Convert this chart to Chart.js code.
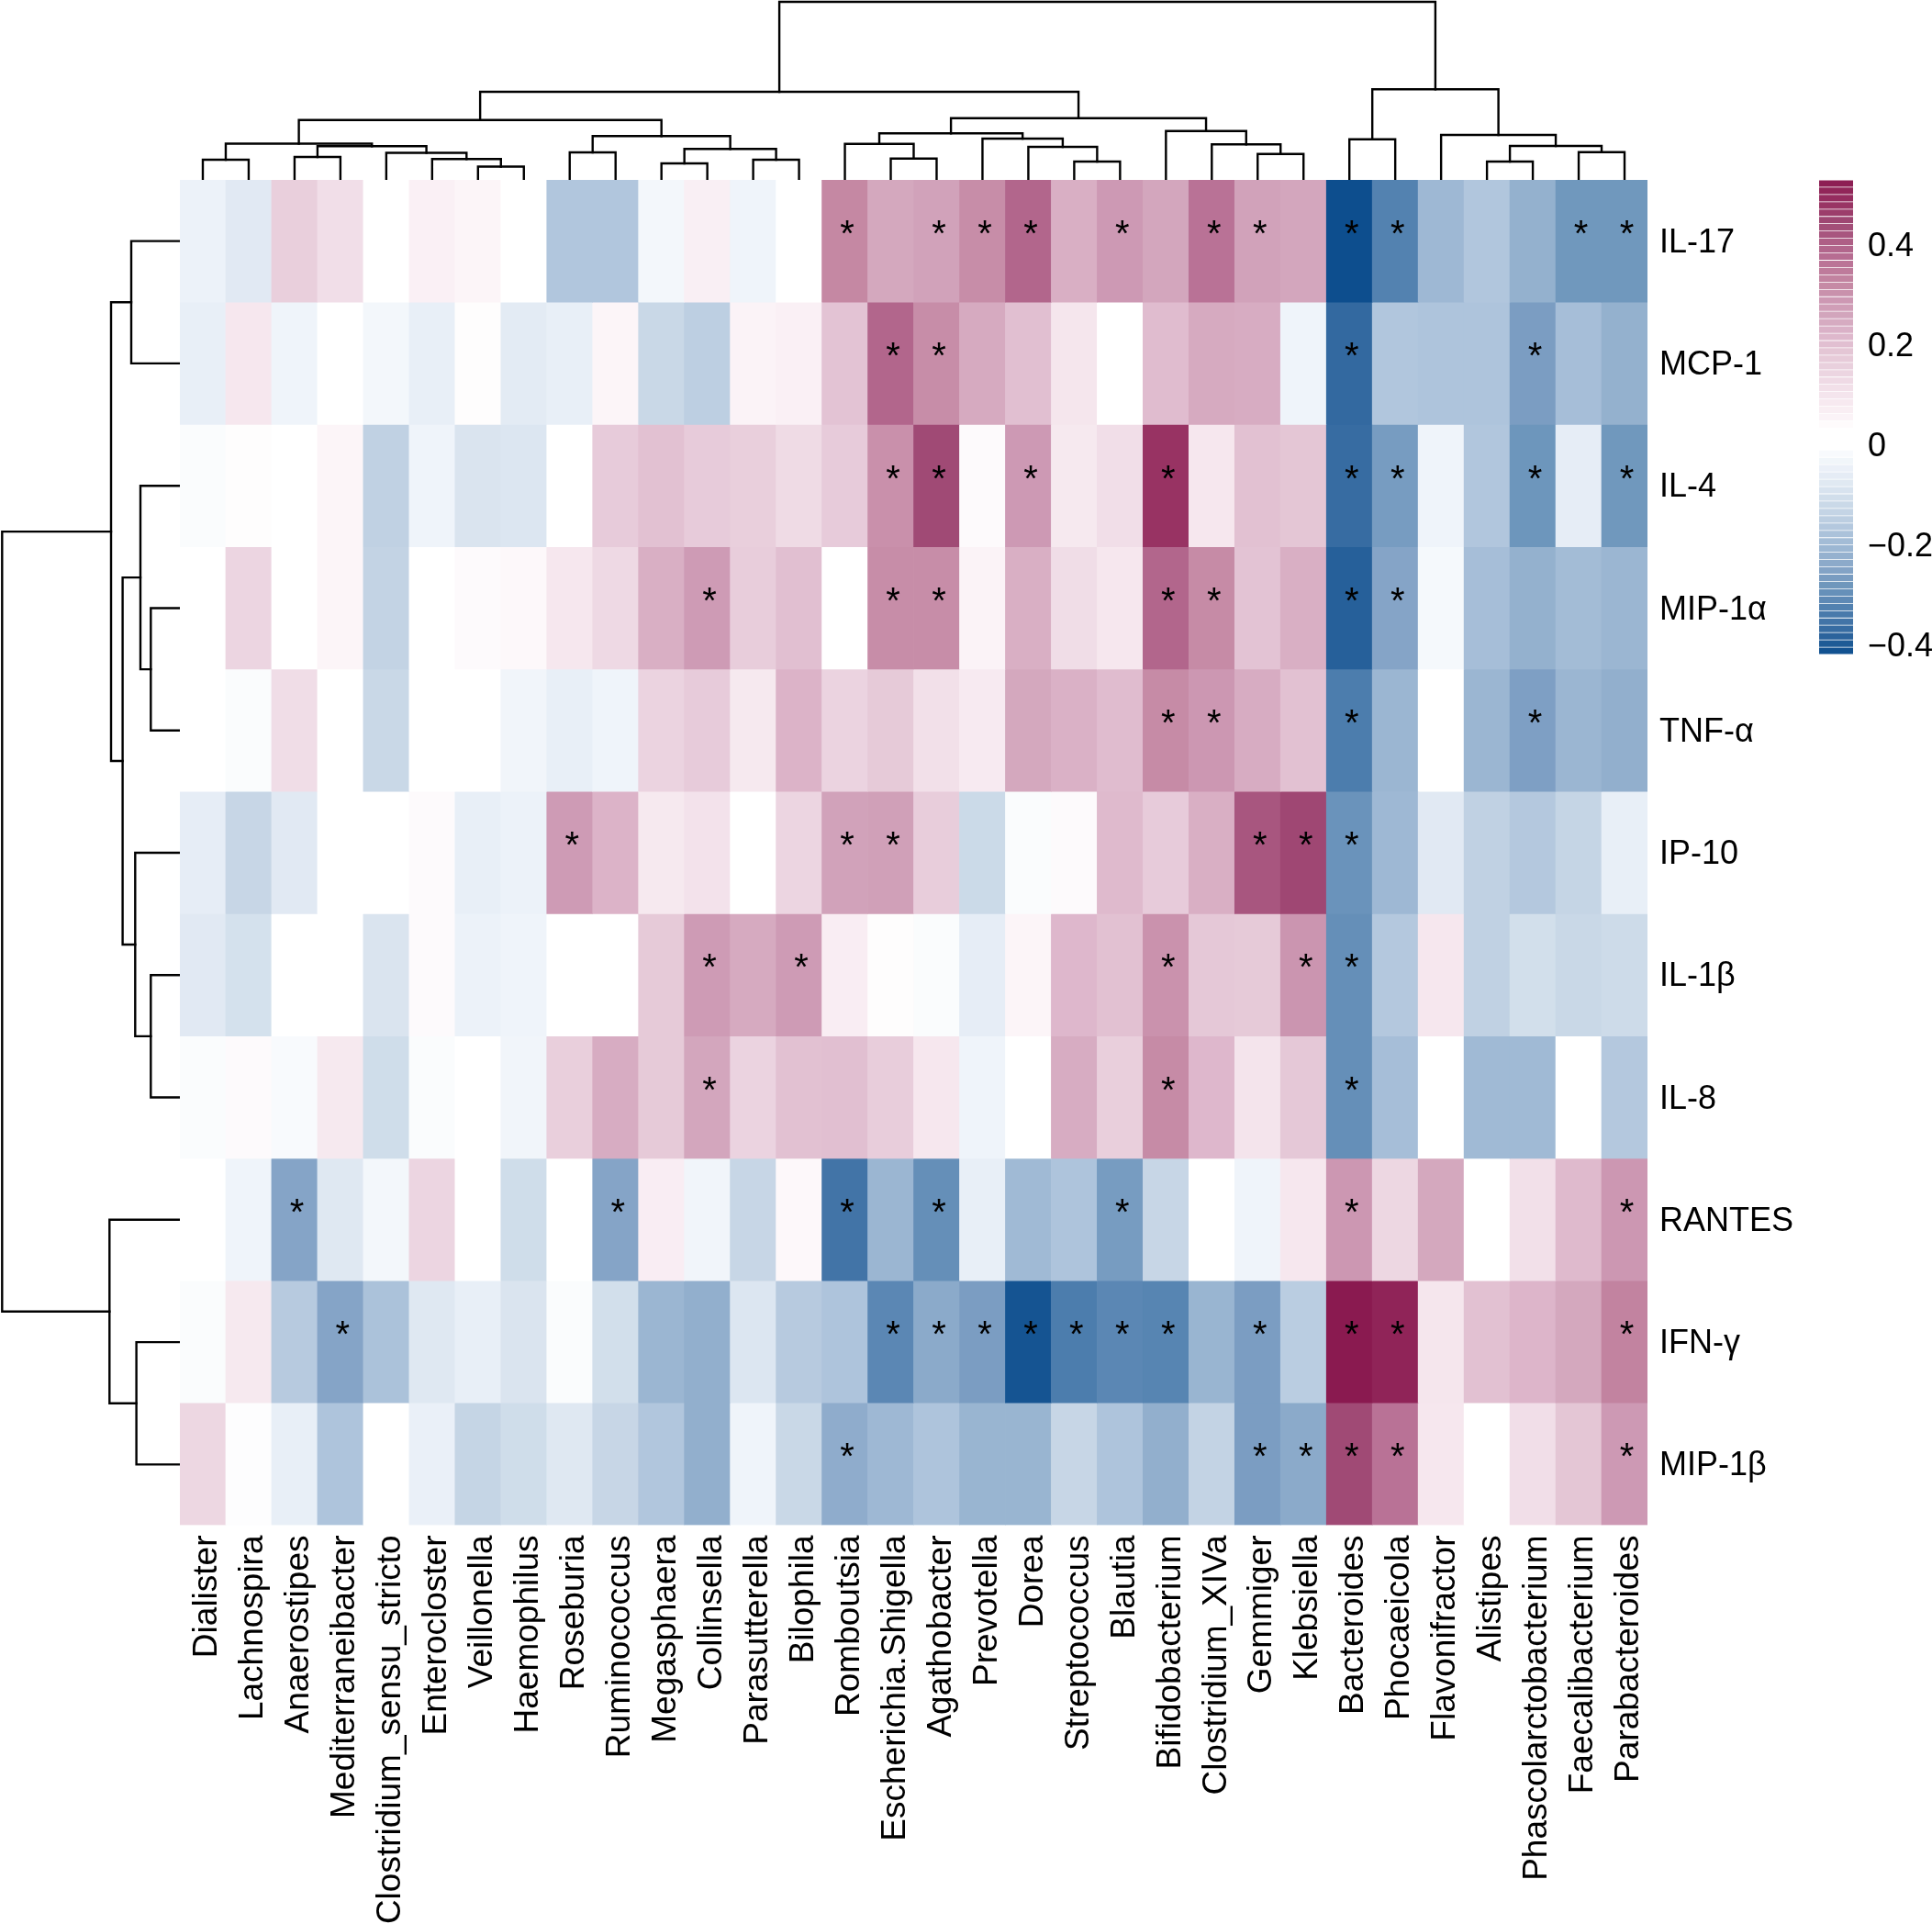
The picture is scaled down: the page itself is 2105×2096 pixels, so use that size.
<!DOCTYPE html>
<html lang="en">

<head>
    <meta charset="UTF-8">
    <title>Cytokine / genus correlation heatmap</title>
    <script src="https://cdn.jsdelivr.net/npm/chart.js"></script>
    <style>
        body { margin: 0; background: #fff; }
        #page { position: relative; width: 2105px; height: 2096px; overflow: hidden; }
        canvas { position: absolute; }
    </style>
</head>

<body>
    <div id="page">
        <canvas id="heat" width="2105" height="2096" style="left:0;top:0"></canvas>
        <canvas id="topTree" width="1599" height="196" style="left:196px;top:0"></canvas>
        <canvas id="leftTree" width="196" height="1466" style="left:0;top:196px"></canvas>
        <canvas id="colorBar" width="123" height="557" style="left:1982px;top:196px"></canvas>
    </div>
    <script>
        const genera = ['Dialister', 'Lachnospira', 'Anaerostipes', 'Mediterraneibacter', 'Clostridium_sensu_stricto',
            'Enterocloster', 'Veillonella', 'Haemophilus', 'Roseburia', 'Ruminococcus', 'Megasphaera', 'Collinsella',
            'Parasutterella', 'Bilophila', 'Romboutsia', 'Escherichia.Shigella', 'Agathobacter', 'Prevotella', 'Dorea',
            'Streptococcus', 'Blautia', 'Bifidobacterium', 'Clostridium_XIVa', 'Gemmiger', 'Klebsiella', 'Bacteroides',
            'Phocaeicola', 'Flavonifractor', 'Alistipes', 'Phascolarctobacterium', 'Faecalibacterium', 'Parabacteroides'];
        const cytokines = ['IL-17', 'MCP-1', 'IL-4', 'MIP-1α', 'TNF-α', 'IP-10', 'IL-1β', 'IL-8', 'RANTES', 'IFN-γ', 'MIP-1β'];

        // correlation per genus, same order as genera
        const il17 = [-.045, -.075, .16, .115, .01, .06, .05, .01, -.17, -.17, -.03, .065, -.04, .01, .32, .25, .265, .31, .39, .235, .285, .255, .365, .265, .255, -.42, -.325, -.205, -.17, -.225, -.28, -.28];
        const mcp1 = [-.055, .09, -.04, .01, -.03, -.055, .035, -.07, -.055, .05, -.125, -.15, .055, .06, .19, .39, .31, .245, .2, .095, .01, .205, .245, .24, -.04, -.375, -.17, -.175, -.175, -.265, -.19, -.225];
        const il4 = [-.015, .035, .01, .05, -.145, -.04, -.09, -.085, .01, .17, .195, .17, .16, .125, .17, .305, .44, .04, .285, .085, .115, .48, .09, .195, .185, -.37, -.27, -.04, -.17, -.285, -.06, -.28];
        const mip1a = [.03, .14, .03, .05, -.14, .01, .04, .045, .09, .13, .235, .28, .165, .2, .01, .31, .31, .055, .235, .12, .09, .39, .315, .19, .235, -.39, -.25, -.025, -.19, -.225, -.195, -.21];
        const tnfa = [.01, -.015, .12, .01, -.125, .01, .01, -.035, -.055, -.04, .145, .17, .085, .225, .145, .175, .11, .08, .25, .23, .205, .315, .29, .24, .195, -.335, -.21, .01, -.21, -.26, -.21, -.23];
        const ip10 = [-.06, -.13, -.075, .01, .01, .04, -.055, -.045, .28, .225, .085, .105, .01, .14, .265, .27, .165, -.12, -.015, .04, .21, .17, .235, .42, .445, -.29, -.205, -.075, -.145, -.165, -.135, -.055];
        const il1b = [-.075, -.1, .01, .01, -.09, .04, -.045, -.04, .01, .03, .175, .28, .245, .28, .07, .035, -.015, -.06, .05, .215, .195, .3, .18, .175, .295, -.3, -.165, .09, -.145, -.105, -.125, -.115];
        const il8 = [-.015, .04, -.02, .085, -.11, -.015, .03, -.035, .16, .24, .175, .255, .145, .195, .2, .165, .09, -.04, .01, .24, .16, .315, .215, .1, .18, -.3, -.19, .01, -.2, -.2, .01, -.165];
        const rantes = [.03, -.04, -.25, -.08, -.03, .14, .01, -.11, .01, -.25, .07, -.035, -.13, .045, -.355, -.21, -.3, -.055, -.2, -.175, -.27, -.13, .01, -.04, .09, .29, .135, .25, .01, .11, .21, .29];
        const ifng = [-.015, .085, -.16, -.25, -.18, -.08, -.055, -.09, -.015, -.105, -.21, -.23, -.085, -.16, -.175, -.315, -.24, -.265, -.41, -.335, -.315, -.32, -.215, -.265, -.155, .53, .51, .095, .195, .22, .25, .33];
        const mip1b = [.135, -.01, -.055, -.175, .03, -.05, -.135, -.11, -.08, -.13, -.17, -.23, -.04, -.125, -.235, -.205, -.175, -.215, -.215, -.13, -.175, -.23, -.14, -.265, -.24, .44, .365, .09, .01, .115, .185, .285];
        const rows = [il17, mcp1, il4, mip1a, tnfa, ip10, il1b, il8, rantes, ifng, mip1b];

        // genus indexes with a significance star, per cytokine
        const stars = [
            [14, 16, 17, 18, 20, 22, 23, 25, 26, 30, 31],
            [15, 16, 25, 29],
            [15, 16, 18, 21, 25, 26, 29, 31],
            [11, 15, 16, 21, 22, 25, 26],
            [21, 22, 25, 29],
            [8, 14, 15, 23, 24, 25],
            [11, 13, 21, 24, 25],
            [11, 21, 25],
            [2, 9, 14, 16, 20, 25, 31],
            [3, 15, 16, 17, 18, 19, 20, 21, 23, 25, 26, 31],
            [14, 23, 24, 25, 26, 31]
        ];

        // hclust style merges: [a, b, height], negative = leaf number, positive = earlier merge
        const genusTree = [[-1, -2, .22], [-3, -4, .25], [-7, -8, .145], [-6, 3, .227], [-5, 4, .295], [2, 5, .367], [1, 6, .395],
            [-9, -10, .30], [-11, -12, .18], [-13, -14, .22], [9, 10, .337], [8, 11, .477], [7, 12, .653],
            [-16, -17, .233], [-15, 14, .393], [-20, -21, .20], [-19, 16, .36], [-18, 17, .45], [15, 18, .507],
            [-24, -25, .283], [-23, 20, .387], [-22, 21, .533], [19, 22, .673], [13, 23, .96],
            [-26, -27, .443], [-29, -30, .20], [-31, -32, .303], [26, 27, .37], [-28, 28, .49], [25, 29, .987], [24, 30, 1.94]];
        const cytokineTree = [[-1, -2, .53], [-4, -5, .317], [-3, 2, .43], [-7, -8, .317], [-6, 4, .487], [3, 5, .624], [1, 6, .75],
            [-10, -11, .474], [-9, 8, .767], [7, 9, 1.937]];

        // colour ramp
        const rampValues = [-.42, -.39, -.36, -.33, -.31, -.28, -.26, -.23, -.2, -.17, -.14, -.11, -.08, -.05, -.03, -.005,
            .03, .06, .1, .14, .18, .22, .25, .29, .32, .37, .4, .44, .48, .53];
        const rampColors = ['#0D4E8E', '#26609A', '#3F72A6', '#4F7FAE', '#5F8AB6', '#7098BD', '#7E9FC4', '#92AFCD', '#A0BAD5', '#B1C6DD', '#C3D3E4', '#CFDDEA', '#DFE8F2', '#EAF0F8', '#F3F7FB', '#FFFFFF',
            '#FFFFFF', '#FAF0F5', '#F4E4EC', '#ECD5E1', '#E5C8D7', '#DDB5CA', '#D4A8BE', '#CC97B2', '#C588A3', '#B86F94', '#AF6188', '#A04A75', '#983363', '#8A1A50'];
        const barTicks = [-.4, -.2, 0, .2, .4];
        const barMin = -.421;
        const barMax = .528;

        Chart.defaults.font.family = '"Liberation Sans", Arial, sans-serif';
        Chart.defaults.color = '#000';
        Chart.defaults.animation = false;

        function hex(c, i) {
            return parseInt(c.substr(1 + i * 2, 2), 16);
        }

        function valueColor(v) {
            let i = 0;
            if (v <= rampValues[0]) return rampColors[0];
            while (i < rampValues.length - 2 && v > rampValues[i + 1]) i++;
            const t = Math.min(1, (v - rampValues[i]) / (rampValues[i + 1] - rampValues[i]));
            const c = [0, 1, 2].map((k) => Math.round(hex(rampColors[i], k) + (hex(rampColors[i + 1], k) - hex(rampColors[i], k)) * t));
            return 'rgb(' + c.join(',') + ')';
        }

        // asterisks on top of the cells
        const starPlugin = {
            id: 'stars',
            afterDatasetsDraw(chart) {
                const ctx = chart.ctx;
                ctx.save();
                ctx.fillStyle = '#000';
                ctx.font = '40px "Liberation Sans", Arial, sans-serif';
                ctx.textAlign = 'center';
                ctx.textBaseline = 'alphabetic';
                stars.forEach((list, r) => {
                    list.forEach((c) => {
                        ctx.fillText('*', chart.scales.x.getPixelForValue(c) + 2.5, chart.scales.y.getPixelForValue(r + 0.5) + 5.5);
                    });
                });
                ctx.restore();
            }
        };

        function drawHeat() {
            // one stacked dataset per cytokine, every cell is one unit high
            const datasets = rows.map((row, r) => ({
                label: cytokines[r],
                data: row.map(() => 1),
                backgroundColor: row.map(valueColor),
                borderWidth: 0,
                barPercentage: 1,
                categoryPercentage: 1
            }));
            new Chart(document.getElementById('heat'), {
                type: 'bar',
                data: { labels: genera, datasets: datasets },
                plugins: [starPlugin],
                options: {
                    responsive: false,
                    devicePixelRatio: 1,
                    layout: { padding: { left: 196, top: 196 } },
                    plugins: { legend: { display: false }, tooltip: { enabled: false } },
                    scales: {
                        x: {
                            stacked: true,
                            grid: { display: false, drawTicks: false },
                            border: { display: false },
                            ticks: { autoSkip: false, minRotation: 90, maxRotation: 90, padding: 11, labelOffset: 5, font: { size: 37 } },
                            afterFit(s) { s.height = 434.5; }
                        },
                        y: { stacked: true, reverse: true, min: 0, max: 11, display: false },
                        rows: {
                            axis: 'y',
                            type: 'category',
                            labels: cytokines,
                            offset: true,
                            position: 'right',
                            grid: { display: false, drawTicks: false },
                            border: { display: false },
                            ticks: { autoSkip: false, padding: 13, labelOffset: 2.5, font: { size: 36 } },
                            afterFit(s) { s.width = 310; }
                        }
                    }
                }
            });
        }

        // one dataset per merge, value axis = position of the leaves
        function treeSegments(merges, horizontal) {
            const nodes = [];
            const node = (id) => (id < 0 ? { pos: -id - 0.5, h: 0 } : nodes[id - 1]);
            const point = (pos, h) => (horizontal ? { x: pos, y: h } : { x: h, y: pos });
            return merges.map((m) => {
                const a = node(m[0]);
                const b = node(m[1]);
                nodes.push({ pos: (a.pos + b.pos) / 2, h: m[2] });
                return {
                    data: [point(a.pos, a.h), point(a.pos, m[2]), point(b.pos, m[2]), point(b.pos, b.h)],
                    showLine: true,
                    borderColor: '#000',
                    borderWidth: 2.4,
                    borderCapStyle: 'square',
                    borderJoinStyle: 'miter',
                    pointRadius: 0,
                    clip: false
                };
            });
        }

        function drawTree(tag, merges, horizontal) {
            const leaves = merges.length + 1;
            const posScale = { type: 'linear', min: 0, max: leaves, display: false };
            const hScale = { type: 'linear', min: 0, max: 1.96, display: false };
            new Chart(document.getElementById(tag), {
                type: 'scatter',
                data: { datasets: treeSegments(merges, horizontal) },
                options: {
                    responsive: false,
                    devicePixelRatio: 1,
                    plugins: { legend: { display: false }, tooltip: { enabled: false } },
                    scales: horizontal
                        ? { x: posScale, y: hScale }
                        : { x: { ...hScale, reverse: true }, y: { ...posScale, reverse: true } }
                }
            });
        }

        function drawColorBar() {
            const steps = [];
            for (let i = 0; i < 65; i++) {
                steps.push(barMin + (barMax - barMin) * (i + 0.5) / 65);
            }
            new Chart(document.getElementById('colorBar'), {
                type: 'bar',
                data: {
                    datasets: [{
                        data: steps.map((v) => ({ x: 1, y: v })),
                        backgroundColor: steps.map(valueColor),
                        barPercentage: 0.9,
                        categoryPercentage: 1
                    }]
                },
                options: {
                    indexAxis: 'y',
                    responsive: false,
                    devicePixelRatio: 1,
                    layout: { padding: { bottom: 40 } },
                    plugins: { legend: { display: false }, tooltip: { enabled: false } },
                    scales: {
                        x: { min: 0, max: 1, display: false },
                        y: {
                            type: 'linear',
                            position: 'right',
                            offset: false,
                            min: barMin,
                            max: barMax,
                            grid: { display: false, drawTicks: false, offset: false },
                            border: { display: false },
                            afterBuildTicks(s) { s.ticks = barTicks.map((v) => ({ value: v })); },
                            ticks: {
                                padding: 16,
                                labelOffset: 3.5,
                                font: { size: 36 },
                                callback: (v) => (v < 0 ? '\u2212' + Math.abs(v) : String(v))
                            },
                            afterFit(s) {
                                s.width = 86;
                                s.paddingTop = 0;
                                s.paddingBottom = 0;
                            }
                        }
                    }
                }
            });
        }

        drawHeat();
        drawTree('topTree', genusTree, true);
        drawTree('leftTree', cytokineTree, false);
        drawColorBar();
    </script>
</body>

</html>
